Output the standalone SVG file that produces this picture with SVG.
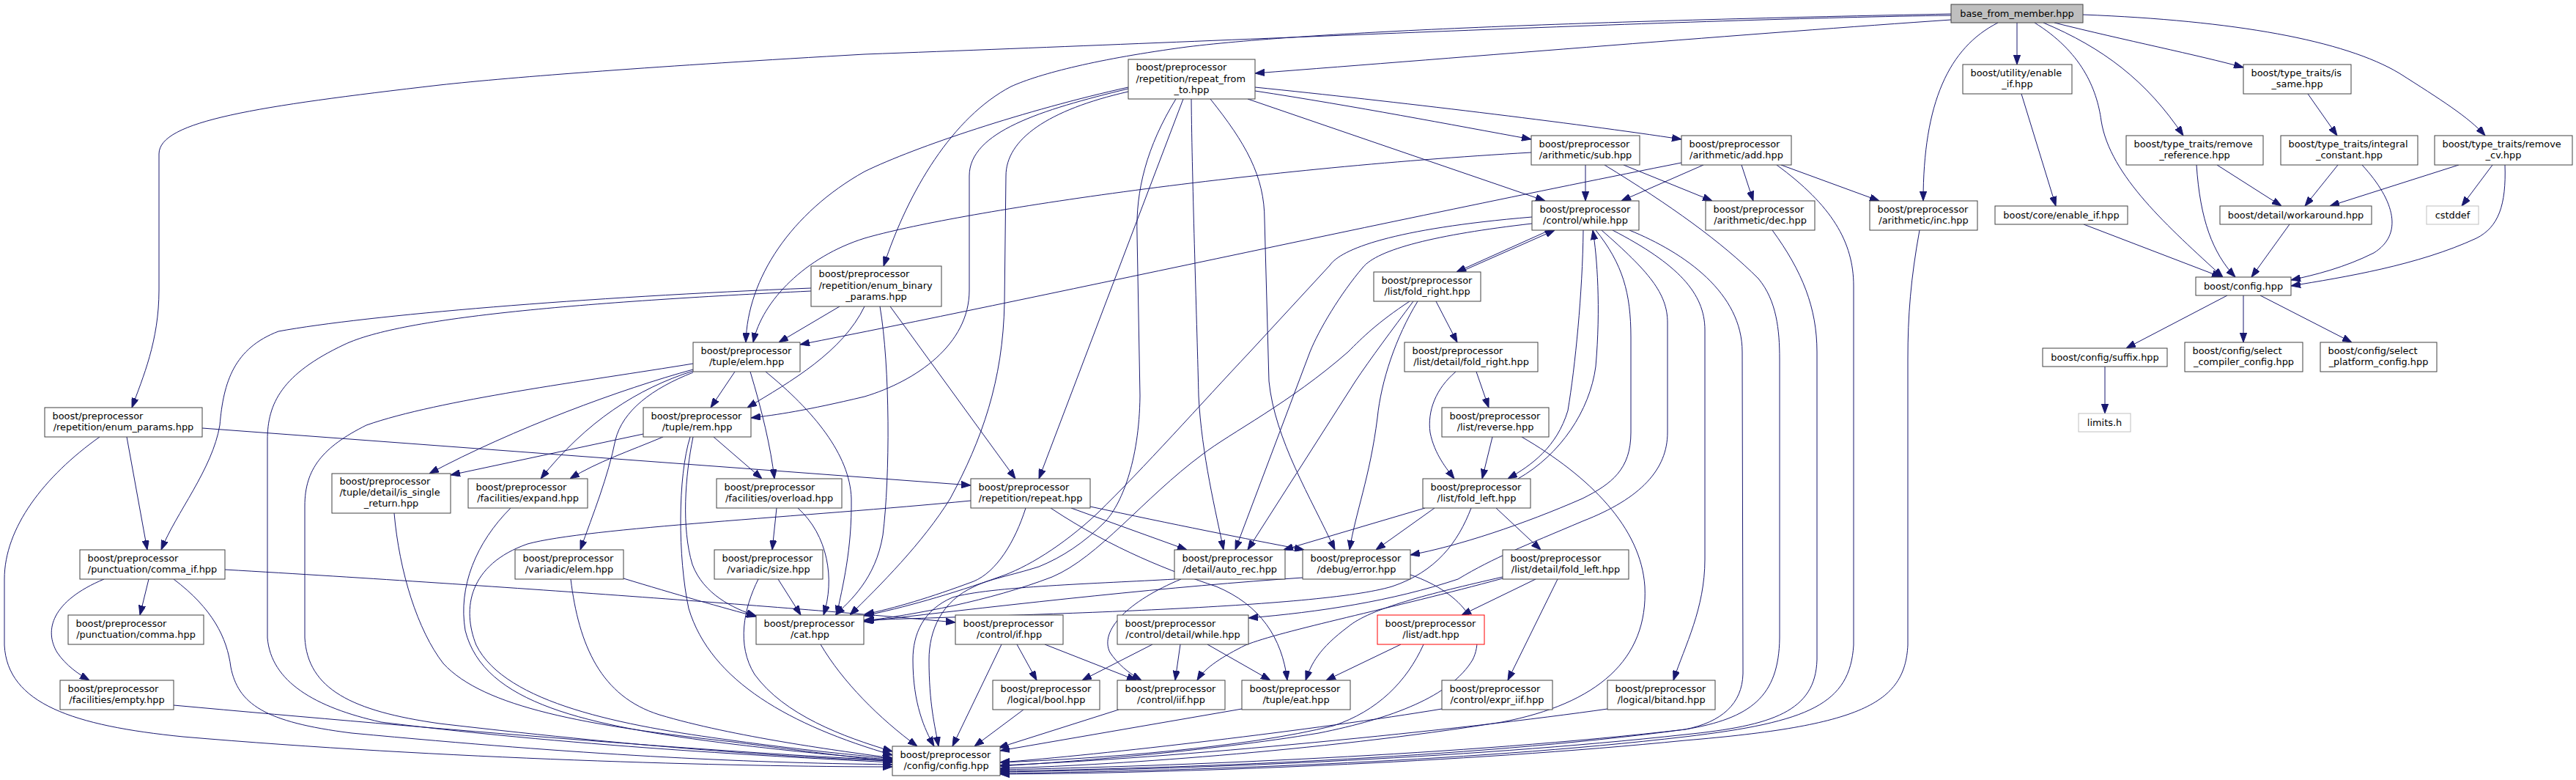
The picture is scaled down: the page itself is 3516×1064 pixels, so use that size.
<svg xmlns="http://www.w3.org/2000/svg" width="3516" height="1064" viewBox="0 0 3516 1064">
<defs>
<marker id="ah" viewBox="0 0 13 9.4" refX="13" refY="4.7" markerWidth="13" markerHeight="9.4" markerUnits="userSpaceOnUse" orient="auto"><path d="M0,0 L13,4.7 L0,9.4 z" fill="#191970" stroke="#191970" stroke-width="1"/></marker>
</defs>
<style>
.e{fill:none;stroke:#191970;stroke-width:1;marker-end:url(#ah)}
.n rect{fill:#ffffff;stroke:#404040;stroke-width:1}
.root rect{fill:#bfbfbf;stroke:#404040;stroke-width:1}
.ext rect{fill:#ffffff;stroke:#bfbfbf;stroke-width:1}
.trunc rect{fill:#ffffff;stroke:#ff0000;stroke-width:1}
text{font-family:"DejaVu Sans","Liberation Sans",sans-serif;font-size:12.9px;fill:#000000}
.m{text-anchor:middle}
</style>
<rect x="0" y="0" width="3516" height="1064" fill="#ffffff"/>
<g id="edges">
<path class="e" d="M2663,21 C 2300,26 1700,55 1180,74 C 900,90 700,105 600,116 C 350,145 217,165 217,210 L 217,396 C 217,465 195,515 180,556"/>
<path class="e" d="M2663,19 C 2200,28 1800,42 1620,64 C 1500,80 1420,100 1380,118 C 1300,160 1240,260 1206,363"/>
<path class="e" d="M2663,27 C 2400,45 2000,78 1713,100"/>
<path class="e" d="M2727,31 C 2660,65 2625,140 2625,274"/>
<path class="e" d="M2753,31 L 2753,88"/>
<path class="e" d="M2804,31 C 2900,55 3000,75 3062,92"/>
<path class="e" d="M2789,31 C 2870,65 2930,110 2980,185"/>
<path class="e" d="M2777,31 C 2840,70 2862,120 2868,165 C 2880,240 2960,310 3034,378"/>
<path class="e" d="M2843,20 C 3050,28 3200,55 3275,100 C 3330,135 3370,160 3392,185"/>
<path class="e" d="M2759,128 L 2806,281"/>
<path class="e" d="M3150,128 L 3190,185"/>
<path class="e" d="M3026,225 L 3114,281"/>
<path class="e" d="M2998,225 C 3003,300 3020,345 3051,378"/>
<path class="e" d="M3191,225 L 3146,281"/>
<path class="e" d="M3224,225 C 3270,275 3280,320 3240,345 C 3200,365 3160,375 3127,382"/>
<path class="e" d="M3356,225 L 3180,281"/>
<path class="e" d="M3402,225 L 3360,281"/>
<path class="e" d="M3419,225 C 3421,280 3410,310 3380,325 C 3300,362 3200,378 3127,390"/>
<path class="e" d="M3125,306 L 3073,378"/>
<path class="e" d="M2844,306 L 3032,378"/>
<path class="e" d="M3040,403 L 2902,475"/>
<path class="e" d="M3062,403 L 3062,467"/>
<path class="e" d="M3085,403 L 3210,467"/>
<path class="e" d="M2873,500 L 2873,564"/>
<path class="e" d="M1713,119 C 1900,138 2150,168 2295,190"/>
<path class="e" d="M1713,124 C 1850,145 1980,170 2090,190"/>
<path class="e" d="M1703,135 L 2109,274"/>
<path class="e" d="M1540,119 C 1400,150 1250,200 1180,234 C 1080,290 1020,380 1018,467"/>
<path class="e" d="M1540,121 C 1420,150 1323,180 1323,240 L 1323,396 C 1323,470 1250,520 1180,541 C 1100,560 1060,566 1025,570"/>
<path class="e" d="M1540,125 C 1430,150 1373,190 1373,240 L 1371,413 C 1369,520 1340,600 1297,680 C 1260,740 1200,800 1160,839"/>
<path class="e" d="M1605,135 C 1565,200 1550,260 1552,320 L 1556,540 C 1555,630 1530,690 1507,713 C 1480,740 1450,760 1418,773 C 1380,785 1350,790 1330,800 C 1285,820 1268,860 1268,900 C 1268,960 1276,990 1281,1018"/>
<path class="e" d="M1615,135 L 1418,653"/>
<path class="e" d="M1626,135 C 1627,250 1634,450 1636,540 C 1640,620 1660,700 1670,750"/>
<path class="e" d="M1652,135 C 1700,195 1726,240 1726,300 L 1732,520 C 1740,600 1790,680 1822,750"/>
<path class="e" d="M1146,418 L 1063,467"/>
<path class="e" d="M1180,418 C 1150,480 1080,520 1020,556"/>
<path class="e" d="M1201,418 C 1215,500 1215,650 1205,730 C 1195,790 1160,820 1140,839"/>
<path class="e" d="M1215,418 L 1386,653"/>
<path class="e" d="M1107,393 C 800,405 500,430 380,452 C 320,475 305,520 300,580 C 290,640 240,700 220,750"/>
<path class="e" d="M1107,397 C 800,412 550,432 470,470 C 385,510 365,550 365,600 L 365,870 C 370,930 430,965 520,985 C 800,1020 1100,1034 1218,1040"/>
<path class="e" d="M173,596 L 201,750"/>
<path class="e" d="M136,596 C 60,650 6,720 6,790 L 6,880 C 10,960 100,990 250,1005 C 600,1035 1000,1046 1218,1046"/>
<path class="e" d="M276,584 L 1325,662"/>
<path class="e" d="M203,790 L 191,839"/>
<path class="e" d="M142,790 C 70,820 60,860 78,890 C 90,908 108,920 122,928"/>
<path class="e" d="M237,790 C 290,830 310,870 315,910 C 325,960 360,985 480,1000 C 800,1030 1000,1040 1218,1043"/>
<path class="e" d="M307,777 C 700,800 1100,830 1304,849"/>
<path class="e" d="M237,962 C 600,995 1000,1028 1218,1037"/>
<path class="e" d="M538,700 C 545,780 570,860 605,905 C 660,965 800,990 1000,1012 C 1100,1025 1200,1037 1218,1039"/>
<path class="e" d="M946,496 C 800,520 600,545 500,580 C 440,610 416,640 416,690 L 416,870 C 420,940 480,970 600,987 C 900,1022 1100,1034 1218,1038"/>
<path class="e" d="M946,504 C 850,530 700,585 586,646"/>
<path class="e" d="M946,506 C 870,530 800,575 738,653"/>
<path class="e" d="M946,508 C 890,530 850,560 840,600 C 830,650 810,700 792,750"/>
<path class="e" d="M1003,507 L 970,556"/>
<path class="e" d="M1024,507 C 1040,560 1052,610 1057,653"/>
<path class="e" d="M1045,507 C 1110,560 1160,620 1162,680 C 1163,750 1150,800 1142,839"/>
<path class="e" d="M878,592 L 615,648"/>
<path class="e" d="M905,596 C 860,615 815,630 778,653"/>
<path class="e" d="M974,596 L 1040,653"/>
<path class="e" d="M946,596 C 935,650 930,720 945,770 C 960,810 1000,830 1032,840"/>
<path class="e" d="M942,596 C 925,650 925,760 940,830 C 970,930 1080,990 1218,1030"/>
<path class="e" d="M697,693 C 650,740 625,800 635,860 C 660,960 800,990 1000,1015 C 1100,1027 1180,1034 1218,1036"/>
<path class="e" d="M1060,693 L 1054,750"/>
<path class="e" d="M1089,693 C 1130,730 1140,790 1124,839"/>
<path class="e" d="M851,789 C 920,810 990,830 1032,841"/>
<path class="e" d="M779,790 C 790,880 820,950 900,975 C 1000,1005 1150,1025 1218,1034"/>
<path class="e" d="M1062,790 L 1093,839"/>
<path class="e" d="M1035,790 C 1015,830 1005,880 1030,920 C 1070,975 1150,1005 1218,1025"/>
<path class="e" d="M1120,879 C 1150,930 1200,980 1252,1018"/>
<path class="e" d="M1400,693 C 1385,740 1360,780 1329,793 C 1270,815 1220,830 1180,838"/>
<path class="e" d="M1325,683 C 1100,705 800,720 720,742 C 640,770 630,830 650,880 C 690,960 850,990 1000,1010 C 1100,1024 1180,1031 1218,1035"/>
<path class="e" d="M1462,693 L 1620,750"/>
<path class="e" d="M1488,691 C 1600,715 1700,735 1780,750"/>
<path class="e" d="M1434,693 C 1520,750 1600,780 1660,800 C 1720,825 1750,870 1757,928"/>
<path class="e" d="M1612,790 C 1540,820 1500,860 1515,890 C 1525,905 1540,918 1558,928"/>
<path class="e" d="M1603,790 C 1500,796 1350,800 1300,815 C 1260,832 1246,865 1246,900 C 1246,960 1262,995 1275,1018"/>
<path class="e" d="M1388,879 L 1415,928"/>
<path class="e" d="M1426,879 L 1551,928"/>
<path class="e" d="M1367,879 L 1300,1018"/>
<path class="e" d="M1397,968 L 1330,1018"/>
<path class="e" d="M1527,968 L 1363,1020"/>
<path class="e" d="M1695,967 L 1365,1024"/>
<path class="e" d="M1573,879 L 1477,928"/>
<path class="e" d="M1611,879 L 1604,928"/>
<path class="e" d="M1648,879 L 1734,928"/>
<path class="e" d="M1912,879 L 1810,928"/>
<path class="e" d="M1943,879 C 1920,930 1880,970 1820,990 C 1700,1020 1500,1035 1365,1040"/>
<path class="e" d="M1778,788 C 1600,800 1400,822 1179,848"/>
<path class="e" d="M1925,784 C 2000,810 2030,860 2010,900 C 1980,950 1900,980 1800,1000 C 1650,1025 1450,1040 1365,1045"/>
<path class="e" d="M1945,693 L 1752,750"/>
<path class="e" d="M1958,693 L 1878,750"/>
<path class="e" d="M2042,693 L 2103,750"/>
<path class="e" d="M2008,693 C 1990,740 1960,780 1900,800 C 1800,830 1400,838 1179,846"/>
<path class="e" d="M1924,411 C 1880,440 1860,460 1840,480 C 1760,550 1680,590 1641,620 C 1560,680 1500,760 1436,787 C 1350,820 1250,838 1180,847"/>
<path class="e" d="M2091,296 C 1900,312 1830,340 1815,362 L 1706,480 C 1640,550 1560,640 1498,700 C 1450,745 1400,775 1364,787 C 1300,810 1230,830 1179,840"/>
<path class="e" d="M1993,371 L 2122,314"/>
<path class="e" d="M2115,314 L 1988,371"/>
<path class="e" d="M1960,411 L 1989,467"/>
<path class="e" d="M1935,411 C 1905,460 1885,520 1880,570 C 1870,650 1850,700 1842,750"/>
<path class="e" d="M1929,411 C 1900,450 1870,490 1850,520 L 1703,750"/>
<path class="e" d="M2091,305 C 1960,320 1880,340 1860,365 C 1830,400 1800,450 1788,480 L 1686,750"/>
<path class="e" d="M2072,653 C 2130,620 2170,560 2178,500 C 2185,420 2180,350 2174,314"/>
<path class="e" d="M2161,314 C 2160,400 2150,500 2140,560 C 2125,610 2090,635 2058,653"/>
<path class="e" d="M2178,314 C 2215,360 2226,400 2226,460 L 2226,590 C 2226,640 2200,660 2160,680 C 2080,715 1990,745 1925,757"/>
<path class="e" d="M2186,314 C 2250,370 2276,400 2276,440 L 2276,590 C 2276,640 2240,680 2160,711 C 2080,745 2040,760 1990,790 C 1900,820 1800,835 1704,843"/>
<path class="e" d="M2201,314 C 2290,360 2327,400 2327,450 L 2327,763 C 2327,830 2300,880 2284,928"/>
<path class="e" d="M2224,314 C 2300,345 2378,400 2378,480 L 2379,919 C 2378,960 2350,985 2300,995 C 2000,1030 1600,1045 1365,1050"/>
<path class="e" d="M2164,225 L 2164,274"/>
<path class="e" d="M2216,225 L 2337,274"/>
<path class="e" d="M2090,208 C 1700,230 1300,290 1180,325 C 1100,350 1040,410 1028,467"/>
<path class="e" d="M2190,225 C 2280,280 2350,330 2400,380 C 2425,410 2429,450 2429,490 L 2429,870 C 2428,950 2390,980 2300,995 C 2000,1035 1600,1048 1365,1052"/>
<path class="e" d="M2377,225 L 2393,274"/>
<path class="e" d="M2431,225 L 2565,274"/>
<path class="e" d="M2325,225 L 2213,274"/>
<path class="e" d="M2295,222 C 1900,300 1400,410 1092,470"/>
<path class="e" d="M2425,225 C 2500,280 2530,330 2530,390 L 2530,880 C 2525,960 2470,985 2300,1005 C 2000,1040 1600,1052 1365,1055"/>
<path class="e" d="M2419,314 C 2460,370 2480,420 2480,480 L 2480,900 C 2478,970 2420,990 2300,1002 C 2000,1035 1600,1050 1365,1053"/>
<path class="e" d="M2620,314 C 2608,380 2604,430 2604,490 L 2604,880 C 2600,960 2540,990 2300,1010 C 2000,1040 1600,1055 1365,1056"/>
<path class="e" d="M1987,507 C 1960,530 1948,560 1952,590 C 1958,620 1975,640 1985,653"/>
<path class="e" d="M2015,507 L 2032,556"/>
<path class="e" d="M2037,596 L 2023,653"/>
<path class="e" d="M2077,596 C 2170,650 2240,720 2245,800 C 2250,900 2180,960 2050,985 C 1800,1025 1500,1045 1365,1048"/>
<path class="e" d="M2096,790 L 1995,839"/>
<path class="e" d="M2126,790 L 2058,928"/>
<path class="e" d="M2051,787 C 1950,810 1870,830 1840,855 C 1800,885 1790,905 1782,928"/>
<path class="e" d="M2051,789 C 1900,830 1750,860 1700,880 C 1670,895 1645,910 1634,928"/>
<path class="e" d="M1968,967 C 1800,995 1500,1030 1365,1040"/>
<path class="e" d="M2194,967 C 2000,995 1600,1035 1365,1044"/>
</g>
<g id="n_bfm" class="root"><rect x="2663" y="6" width="180" height="25"/><text class="m" x="2753" y="23">base_from_member.hpp</text></g>
<g id="n_rft" class="n"><rect x="1540" y="81" width="173" height="54"/><text x="1550.5" y="96.4">boost/preprocessor</text><text x="1550.5" y="111.6">/repetition/repeat_from</text><text class="m" x="1626.5" y="126.8">_to.hpp</text></g>
<g id="n_uei" class="n"><rect x="2679" y="88" width="149" height="40"/><text x="2689.5" y="103.5">boost/utility/enable</text><text class="m" x="2753.5" y="118.7">_if.hpp</text></g>
<g id="n_is" class="n"><rect x="3062" y="88" width="147" height="40"/><text x="3072.5" y="103.5">boost/type_traits/is</text><text class="m" x="3135.5" y="118.7">_same.hpp</text></g>
<g id="n_sub" class="n"><rect x="2090" y="185" width="148" height="40"/><text x="2100.5" y="200.5">boost/preprocessor</text><text class="m" x="2164" y="215.7">/arithmetic/sub.hpp</text></g>
<g id="n_add" class="n"><rect x="2295" y="185" width="150" height="40"/><text x="2305.5" y="200.5">boost/preprocessor</text><text class="m" x="2370" y="215.7">/arithmetic/add.hpp</text></g>
<g id="n_rr" class="n"><rect x="2902" y="185" width="187" height="40"/><text x="2912.5" y="200.5">boost/type_traits/remove</text><text class="m" x="2995.5" y="215.7">_reference.hpp</text></g>
<g id="n_ic" class="n"><rect x="3113" y="185" width="187" height="40"/><text x="3123.5" y="200.5">boost/type_traits/integral</text><text class="m" x="3206.5" y="215.7">_constant.hpp</text></g>
<g id="n_rcv" class="n"><rect x="3323" y="185" width="188" height="40"/><text x="3333.5" y="200.5">boost/type_traits/remove</text><text class="m" x="3417" y="215.7">_cv.hpp</text></g>
<g id="n_while" class="n"><rect x="2091" y="274" width="146" height="40"/><text x="2101.5" y="289.5">boost/preprocessor</text><text class="m" x="2164" y="304.7">/control/while.hpp</text></g>
<g id="n_dec" class="n"><rect x="2328" y="274" width="149" height="40"/><text x="2338.5" y="289.5">boost/preprocessor</text><text class="m" x="2402.5" y="304.7">/arithmetic/dec.hpp</text></g>
<g id="n_inc" class="n"><rect x="2552" y="274" width="147" height="40"/><text x="2562.5" y="289.5">boost/preprocessor</text><text class="m" x="2625.5" y="304.7">/arithmetic/inc.hpp</text></g>
<g id="n_cei" class="n"><rect x="2723" y="281" width="181" height="25"/><text class="m" x="2813.5" y="298">boost/core/enable_if.hpp</text></g>
<g id="n_wa" class="n"><rect x="3030" y="281" width="207" height="25"/><text class="m" x="3133.5" y="298">boost/detail/workaround.hpp</text></g>
<g id="n_cstddef" class="ext"><rect x="3312" y="281" width="71" height="25"/><text class="m" x="3347.5" y="298">cstddef</text></g>
<g id="n_ebp" class="n"><rect x="1107" y="363" width="178" height="55"/><text x="1117.5" y="378.4">boost/preprocessor</text><text x="1117.5" y="393.6">/repetition/enum_binary</text><text class="m" x="1196" y="408.8">_params.hpp</text></g>
<g id="n_fr" class="n"><rect x="1875" y="371" width="146" height="40"/><text x="1885.5" y="386.5">boost/preprocessor</text><text class="m" x="1948" y="401.7">/list/fold_right.hpp</text></g>
<g id="n_cfg" class="n"><rect x="2997" y="378" width="130" height="25"/><text class="m" x="3062" y="395">boost/config.hpp</text></g>
<g id="n_te" class="n"><rect x="946" y="467" width="146" height="40"/><text x="956.5" y="482.5">boost/preprocessor</text><text class="m" x="1019" y="497.7">/tuple/elem.hpp</text></g>
<g id="n_dfr" class="n"><rect x="1917" y="467" width="182" height="40"/><text x="1927.5" y="482.5">boost/preprocessor</text><text class="m" x="2008" y="497.7">/list/detail/fold_right.hpp</text></g>
<g id="n_suffix" class="n"><rect x="2788" y="475" width="170" height="25"/><text class="m" x="2873" y="492">boost/config/suffix.hpp</text></g>
<g id="n_scc" class="n"><rect x="2982" y="467" width="161" height="40"/><text x="2992.5" y="482.5">boost/config/select</text><text class="m" x="3062.5" y="497.7">_compiler_config.hpp</text></g>
<g id="n_spc" class="n"><rect x="3167" y="467" width="159" height="40"/><text x="3177.5" y="482.5">boost/config/select</text><text class="m" x="3246.5" y="497.7">_platform_config.hpp</text></g>
<g id="n_ep" class="n"><rect x="61" y="556" width="215" height="40"/><text x="71.5" y="571.5">boost/preprocessor</text><text class="m" x="168.5" y="586.7">/repetition/enum_params.hpp</text></g>
<g id="n_tr" class="n"><rect x="878" y="556" width="147" height="40"/><text x="888.5" y="571.5">boost/preprocessor</text><text class="m" x="951.5" y="586.7">/tuple/rem.hpp</text></g>
<g id="n_rev" class="n"><rect x="1968" y="556" width="146" height="40"/><text x="1978.5" y="571.5">boost/preprocessor</text><text class="m" x="2041" y="586.7">/list/reverse.hpp</text></g>
<g id="n_limits" class="ext"><rect x="2837" y="564" width="71" height="25"/><text class="m" x="2872.5" y="581">limits.h</text></g>
<g id="n_isr" class="n"><rect x="453" y="646" width="162" height="54"/><text x="463.5" y="660.9">boost/preprocessor</text><text x="463.5" y="676.1">/tuple/detail/is_single</text><text class="m" x="534" y="691.3">_return.hpp</text></g>
<g id="n_expand" class="n"><rect x="639" y="653" width="163" height="40"/><text x="649.5" y="668.5">boost/preprocessor</text><text class="m" x="720.5" y="683.7">/facilities/expand.hpp</text></g>
<g id="n_overload" class="n"><rect x="978" y="653" width="171" height="40"/><text x="988.5" y="668.5">boost/preprocessor</text><text class="m" x="1063.5" y="683.7">/facilities/overload.hpp</text></g>
<g id="n_rep" class="n"><rect x="1325" y="653" width="163" height="40"/><text x="1335.5" y="668.5">boost/preprocessor</text><text class="m" x="1406.5" y="683.7">/repetition/repeat.hpp</text></g>
<g id="n_fl" class="n"><rect x="1942" y="653" width="147" height="40"/><text x="1952.5" y="668.5">boost/preprocessor</text><text class="m" x="2015.5" y="683.7">/list/fold_left.hpp</text></g>
<g id="n_commaif" class="n"><rect x="109" y="750" width="198" height="40"/><text x="119.5" y="765.5">boost/preprocessor</text><text class="m" x="208" y="780.7">/punctuation/comma_if.hpp</text></g>
<g id="n_velem" class="n"><rect x="703" y="750" width="148" height="40"/><text x="713.5" y="765.5">boost/preprocessor</text><text class="m" x="777" y="780.7">/variadic/elem.hpp</text></g>
<g id="n_vsize" class="n"><rect x="975" y="750" width="148" height="40"/><text x="985.5" y="765.5">boost/preprocessor</text><text class="m" x="1049" y="780.7">/variadic/size.hpp</text></g>
<g id="n_autorec" class="n"><rect x="1603" y="750" width="151" height="40"/><text x="1613.5" y="765.5">boost/preprocessor</text><text class="m" x="1678.5" y="780.7">/detail/auto_rec.hpp</text></g>
<g id="n_error" class="n"><rect x="1778" y="750" width="147" height="40"/><text x="1788.5" y="765.5">boost/preprocessor</text><text class="m" x="1851.5" y="780.7">/debug/error.hpp</text></g>
<g id="n_dfl" class="n"><rect x="2051" y="750" width="172" height="40"/><text x="2061.5" y="765.5">boost/preprocessor</text><text class="m" x="2137" y="780.7">/list/detail/fold_left.hpp</text></g>
<g id="n_comma" class="n"><rect x="93" y="839" width="185" height="40"/><text x="103.5" y="854.5">boost/preprocessor</text><text class="m" x="185.5" y="869.7">/punctuation/comma.hpp</text></g>
<g id="n_cat" class="n"><rect x="1032" y="839" width="147" height="40"/><text x="1042.5" y="854.5">boost/preprocessor</text><text class="m" x="1105.5" y="869.7">/cat.hpp</text></g>
<g id="n_if" class="n"><rect x="1304" y="839" width="147" height="40"/><text x="1314.5" y="854.5">boost/preprocessor</text><text class="m" x="1377.5" y="869.7">/control/if.hpp</text></g>
<g id="n_dwhile" class="n"><rect x="1525" y="839" width="179" height="40"/><text x="1535.5" y="854.5">boost/preprocessor</text><text class="m" x="1614.5" y="869.7">/control/detail/while.hpp</text></g>
<g id="n_adt" class="trunc"><rect x="1880" y="839" width="146" height="40"/><text x="1890.5" y="854.5">boost/preprocessor</text><text class="m" x="1953" y="869.7">/list/adt.hpp</text></g>
<g id="n_empty" class="n"><rect x="82" y="928" width="155" height="40"/><text x="92.5" y="943.5">boost/preprocessor</text><text class="m" x="159.5" y="958.7">/facilities/empty.hpp</text></g>
<g id="n_bool" class="n"><rect x="1355" y="928" width="146" height="40"/><text x="1365.5" y="943.5">boost/preprocessor</text><text class="m" x="1428" y="958.7">/logical/bool.hpp</text></g>
<g id="n_iif" class="n"><rect x="1525" y="928" width="147" height="40"/><text x="1535.5" y="943.5">boost/preprocessor</text><text class="m" x="1598.5" y="958.7">/control/iif.hpp</text></g>
<g id="n_eat" class="n"><rect x="1695" y="928" width="148" height="40"/><text x="1705.5" y="943.5">boost/preprocessor</text><text class="m" x="1769" y="958.7">/tuple/eat.hpp</text></g>
<g id="n_expriif" class="n"><rect x="1968" y="928" width="151" height="40"/><text x="1978.5" y="943.5">boost/preprocessor</text><text class="m" x="2043.5" y="958.7">/control/expr_iif.hpp</text></g>
<g id="n_bitand" class="n"><rect x="2194" y="928" width="147" height="40"/><text x="2204.5" y="943.5">boost/preprocessor</text><text class="m" x="2267.5" y="958.7">/logical/bitand.hpp</text></g>
<g id="n_ppc" class="n"><rect x="1218" y="1018" width="147" height="40"/><text x="1228.5" y="1033.5">boost/preprocessor</text><text class="m" x="1291.5" y="1048.7">/config/config.hpp</text></g>
</svg>
